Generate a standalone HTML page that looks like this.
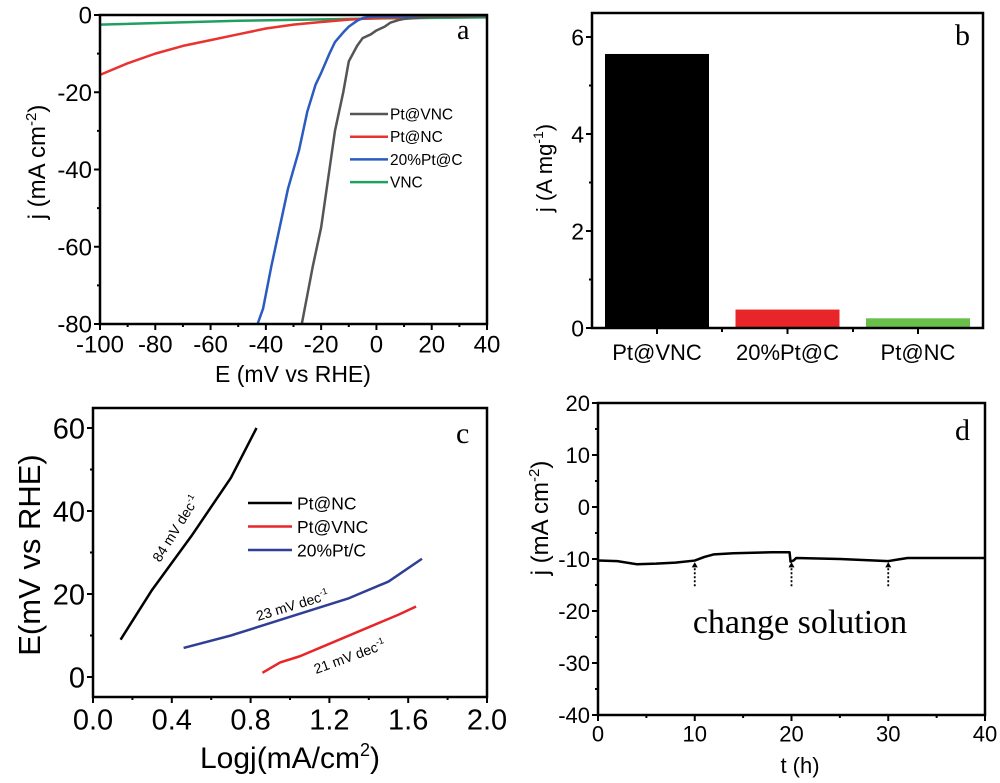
<!DOCTYPE html>
<html><head><meta charset="utf-8"><style>
body{margin:0;background:#fff}
svg{display:block}
text{font-family:"Liberation Sans",sans-serif;fill:#000}
.serif{font-family:"Liberation Serif",serif}
</style></head><body>
<svg id="s" width="1000" height="783" viewBox="0 0 1000 783"></svg>
<script>
// Panel a data
const aE_vnc=[-27,-23,-20,-17,-15,-12,-10,-7,-5,-2,0,3,5,8,10,20,40];
const aJ_vnc=[-80,-65,-55,-40,-30,-20,-12,-8,-6,-5,-4,-3,-2,-1.3,-1,-0.5,-0.3];
const aE_pt=[-43,-41,-38,-35,-32,-28,-25,-22,-20,-17,-15,-12,-10,-7,-5,-3,0,40];
const aJ_pt=[-80,-76,-65,-55,-45,-35,-25,-18,-15,-10,-7,-4.5,-3,-1.5,-0.8,-0.5,-0.4,-0.2];
const aE_nc=[-100,-90,-80,-70,-60,-50,-40,-30,-20,-10,0,20,40];
const aJ_nc=[-15.5,-12.5,-10,-8,-6.5,-5,-3.5,-2.5,-1.8,-1.2,-0.8,-0.5,-0.3];
const aE_v=[-100,-50,0,40];
const aJ_v=[-2.5,-1.5,-0.9,-0.6];
// Panel b data
const bCats=["Pt@VNC","20%Pt@C","Pt@NC"];
const bVals=[5.65,0.38,0.2];
const bColors=["#000","#e8262a","#6abf4b"];
// Panel c data
const cX_nc=[0.14,0.3,0.5,0.7,0.83];
const cY_nc=[9,21,34,48,60];
const cX_vnc=[0.86,0.95,1.05,1.2,1.4,1.55,1.64];
const cY_vnc=[1,3.5,5,8,12,15,17];
const cX_pt=[0.46,0.7,1.0,1.3,1.5,1.67];
const cY_pt=[7,10,14.5,19,23,28.5];
// Panel d data
const dT=[0,2,4,6,8,10,11,12,14,16,18,19.8,19.9,20.2,20.5,25,30,31,32,35,40];
const dJ=[-10.3,-10.4,-11,-10.9,-10.7,-10.3,-9.6,-9.1,-8.9,-8.8,-8.7,-8.7,-10.5,-10.3,-9.8,-10.0,-10.4,-10.1,-9.8,-9.8,-9.8];

const S=document.getElementById('s');
const NS="http://www.w3.org/2000/svg";
function el(tag,attrs,parent,txt){const e=document.createElementNS(NS,tag);for(const k in attrs)e.setAttribute(k,attrs[k]);if(txt!=null)e.textContent=txt;(parent||S).appendChild(e);return e;}
function lin(d0,d1,r0,r1){return v=>r0+(v-d0)*(r1-r0)/(d1-d0);}
function line(xs,ys,X,Y,color,w,name){const p=el('polyline',{points:xs.map((x,i)=>X(x)+','+Y(ys[i])).join(' '),fill:'none',stroke:color,'stroke-width':w,'stroke-linejoin':'round'});

return p;}
function frame(x0,y0,x1,y1,name){const r=el('rect',{x:x0,y:y0,width:x1-x0,height:y1-y0,fill:'none',stroke:'#000','stroke-width':2.5});

}
function yticks(vals,Y,x0,fs,minor,name){vals.forEach(v=>{el('line',{x1:x0-6,x2:x0,y1:Y(v),y2:Y(v),stroke:'#000','stroke-width':2});
const t=el('text',{x:x0-8,y:Y(v)+fs*0.36,'font-size':fs,'text-anchor':'end'},null,v);

});
(minor||[]).forEach(v=>el('line',{x1:x0-3,x2:x0,y1:Y(v),y2:Y(v),stroke:'#000','stroke-width':2}));}
function xticks(vals,X,y0,fs,minor,name,fmt){vals.forEach(v=>{el('line',{x1:X(v),x2:X(v),y1:y0,y2:y0+6,stroke:'#000','stroke-width':2});
const t=el('text',{x:X(v),y:y0+8+fs*0.85,'font-size':fs,'text-anchor':'middle'},null,fmt?fmt(v):v);

});
(minor||[]).forEach(v=>el('line',{x1:X(v),x2:X(v),y1:y0,y2:y0+3,stroke:'#000','stroke-width':2}));}

// ---------- Panel a ----------
{const X=lin(-100,40,100,487),Y=lin(0,-80,15,324);
line(aE_v,aJ_v,X,Y,'#1fa060',2.5,'vnc-line');
line(aE_nc,aJ_nc,X,Y,'#e8332f',2.5,'pt-nc-line');
line(aE_pt,aJ_pt,X,Y,'#2a5bbf',2.5,'pt-c-line');
line(aE_vnc,aJ_vnc,X,Y,'#555',2.5,'pt-vnc-line');
frame(100,15,487,324,'panel-a-frame');
yticks([0,-20,-40,-60,-80],Y,100,24,[-10,-30,-50,-70],'a-y-tick');
xticks([-100,-80,-60,-40,-20,0,20,40],X,324,24,[-90,-70,-50,-30,-10,10,30],'a-x-tick');
el('text',{x:293,y:382,'font-size':23,'text-anchor':'middle',},null,'E (mV vs RHE)');
const yt=el('text',{transform:'translate(45,162) rotate(-90)','font-size':24,'text-anchor':'middle',});
yt.innerHTML='j (mA cm<tspan dy="-9" font-size="15">-2</tspan><tspan dy="9">)</tspan>';
el('text',{x:457,y:39,'font-size':28,class:'serif',},null,'a');
const L=[['Pt@VNC','#555'],['Pt@NC','#e8332f'],['20%Pt@C','#2a5bbf'],['VNC','#1fa060']];
L.forEach((l,i)=>{const y=114+i*22.7;el('line',{x1:350,x2:388,y1:y,y2:y,stroke:l[1],'stroke-width':2.5,});
el('text',{x:390,y:y+5.5,'font-size':15.5,},null,l[0]);});}

// ---------- Panel b ----------
{const Y=lin(0,6,328,37);const x0=592,x1=983,bw=104,step=130.5;
bCats.forEach((c,i)=>{const cx=657+i*step;
const r=el('rect',{x:cx-bw/2,y:Y(bVals[i]),width:bw,height:Y(0)-Y(bVals[i]),fill:bColors[i]});


el('line',{x1:cx,x2:cx,y1:328,y2:334,stroke:'#000','stroke-width':2});
const t=el('text',{x:cx,y:360,'font-size':22,'text-anchor':'middle'},null,c);

});
[722,853].forEach(x=>el('line',{x1:x,x2:x,y1:328,y2:332,stroke:'#000','stroke-width':2}));
frame(x0,13,x1,328,'panel-b-frame');
yticks([0,2,4,6],Y,x0,23,[1,3,5],'b-y-tick');
const yt=el('text',{transform:'translate(552,168) rotate(-90)','font-size':22,'text-anchor':'middle',});
yt.innerHTML='j (A mg<tspan dy="-9" font-size="14">-1</tspan><tspan dy="9">)</tspan>';
el('text',{x:955,y:45,'font-size':30,class:'serif',},null,'b');}

// ---------- Panel c ----------
{const X=lin(0,2,93,487),Y=lin(0,60,677,428);
line(cX_nc,cY_nc,X,Y,'#000',2.5,'c-pt-nc-line');
line(cX_pt,cY_pt,X,Y,'#2f3f95',2.5,'c-pt-c-line');
line(cX_vnc,cY_vnc,X,Y,'#e8262a',2.5,'c-pt-vnc-line');
frame(93,408,487,697,'panel-c-frame');
yticks([0,20,40,60],Y,93,29,[10,30,50],'c-y-tick');
xticks([0,0.4,0.8,1.2,1.6,2.0],X,697,29,[0.2,0.6,1.0,1.4,1.8],'c-x-tick',v=>v.toFixed(1));
const xt=el('text',{x:290,y:768,'font-size':30,'text-anchor':'middle',});
xt.innerHTML='Logj(mA/cm<tspan dy="-12" font-size="18">2</tspan><tspan dy="12">)</tspan>';
el('text',{transform:'translate(40,555) rotate(-90)','font-size':31,'text-anchor':'middle',},null,'E(mV vs RHE)');
el('text',{x:456,y:443,'font-size':30,class:'serif',},null,'c');
const L=[['Pt@NC','#000'],['Pt@VNC','#e8262a'],['20%Pt/C','#2f3f95']];
L.forEach((l,i)=>{const y=503+i*23.5;el('line',{x1:248,x2:292,y1:y,y2:y,stroke:l[1],'stroke-width':2.5,});
el('text',{x:297,y:y+6.5,'font-size':17.5,},null,l[0]);});
function ann(x,y,a,t,n){const e=el('text',{transform:`translate(${x},${y}) rotate(${a})`,'font-size':14,});e.innerHTML=t+' mV dec<tspan dy="-6" font-size="9">-1</tspan>';}
ann(160,563,-58,'84','c-slope-84');
ann(258,621,-17,'23','c-slope-23');
ann(316,674,-20,'21','c-slope-21');}

// ---------- Panel d ----------
{const X=lin(0,40,598,985),Y=lin(20,-40,403,715);
line(dT,dJ,X,Y,'#000',2.5,'d-stability-line');
[10,20,30].forEach(t=>{el('line',{x1:X(t),x2:X(t),y1:Y(-11),y2:Y(-15.5),stroke:'#000','stroke-width':1.8,'stroke-dasharray':'2,2',});
el('path',{d:`M${X(t)-3},${Y(-11.6)} L${X(t)+3},${Y(-11.6)} L${X(t)},${Y(-10.6)}Z`,fill:'#000'});});
frame(598,403,985,715,'panel-d-frame');
yticks([20,10,0,-10,-20,-30,-40],Y,598,22,[15,5,-5,-15,-25,-35],'d-y-tick');
xticks([0,10,20,30,40],X,715,22,[5,15,25,35],'d-x-tick');
el('text',{x:800,y:773,'font-size':22,'text-anchor':'middle',},null,'t (h)');
const yt=el('text',{transform:'translate(548,518) rotate(-90)','font-size':24,'text-anchor':'middle',});
yt.innerHTML='j (mA cm<tspan dy="-9" font-size="15">-2</tspan><tspan dy="9">)</tspan>';
el('text',{x:800,y:633,'font-size':34,class:'serif','text-anchor':'middle',},null,'change solution');
el('text',{x:955,y:440,'font-size':30,class:'serif',},null,'d');}
</script>
</body></html>
